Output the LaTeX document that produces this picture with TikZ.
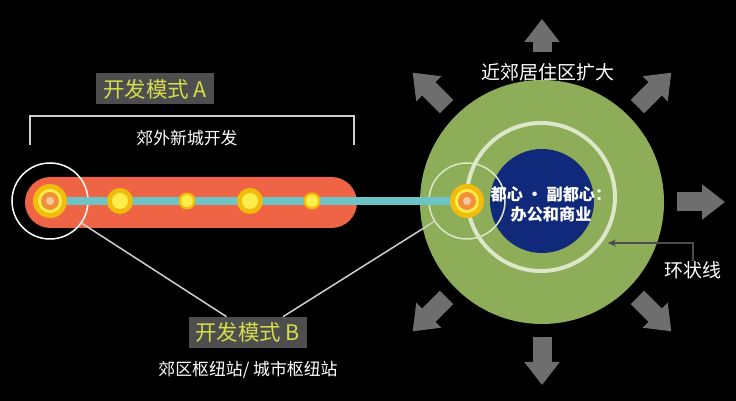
\documentclass[tikz,border=0pt]{standalone}
\usepackage{fontspec}
\newfontfamily\cjk{Noto Sans CJK SC}
\usetikzlibrary{arrows.meta,calc}
\definecolor{Pill}{HTML}{EF6444}
\definecolor{Rail}{HTML}{6CC4C6}
\definecolor{Gold}{HTML}{F2BC0C}
\definecolor{Lemon}{HTML}{FCEE4A}
\definecolor{Ember}{HTML}{F2903A}
\definecolor{Peach}{HTML}{F8C6A0}
\definecolor{Olive}{HTML}{8EAD58}
\definecolor{Navy}{HTML}{10297A}
\definecolor{RingW}{HTML}{DCE6C8}
\definecolor{Slate}{HTML}{6E6E6E}
\definecolor{BoxG}{HTML}{4E4E4E}
\definecolor{Chart}{HTML}{D4DE4C}
\definecolor{LGray}{HTML}{CFCFCF}
\newcommand\hubdot[1]{%
  \fill[Gold] (#1) circle (17); \fill[Lemon] (#1) circle (12);
  \fill[Ember] (#1) circle (9); \fill[Peach] (#1) circle (4);}

\begin{document}
\begin{tikzpicture}[
  x=0.2mm, y=-0.2mm,
  mode/.style={fill=BoxG, text=Chart, minimum width=23.6mm, minimum height=6.2mm,
    inner sep=0pt, font=\cjk\fontsize{12.2}{14}\selectfont},
  note/.style={text=white, inner sep=0pt, font=\cjk\fontsize{9.6}{11}\selectfont},
  big/.style={text=white, inner sep=0pt, font=\cjk\fontsize{10.8}{13}\selectfont},
  halo/.style={circle, draw=#1, line width=0.3mm, minimum size=15.2mm, inner sep=0pt},
  wire/.style={draw=LGray, line width=0.3mm},
  burst/.style={draw=Slate, line width=3.8mm, -{Triangle[length=4.6mm, width=6.8mm]}},
  ptr/.style={draw=black!70, line width=0.3mm, -{Stealth[length=1.6mm, width=1.4mm]}}
]
  \useasboundingbox (0,0) rectangle (736,401);
  \fill[black] (0,0) rectangle (736,401);

  \fill[Pill, rounded corners=5.1mm] (25,177) rectangle (357,228);
  \fill[Olive] (542,202) circle (122);
  \draw[RingW, line width=0.8mm] (541,197) circle (74);
  \fill[Navy] (542,201) circle (52);

  \node[halo=white] (hubA) at (50,201) {};
  \node[halo=RingW] (hubB) at (467,201) {};
  \draw[Rail, line width=1.6mm] (hubA.center) -- (hubB.center);
  \foreach \x in {120,250} {\fill[Gold] (\x,201) circle (13); \fill[Lemon] (\x,201) circle (8);}
  \foreach \x in {187,312} {\fill[Gold] (\x,201) circle (8.5); \fill[Lemon] (\x,201) circle (6);}
  \hubdot{hubA.center}
  \hubdot{hubB.center}

  \draw[LGray, line width=0.4mm] (30,145) |- (354,116) -- (354,145);
  \node[mode] (modeA) at (155,89) {开发模式 A};
  \node[note] (newtown) at (187,138) {郊外新城开发};
  \node[mode] (modeB) at (247.5,332.5) {开发模式 B};
  \node[note] (hubs) at (248,370) {郊区枢纽站/ 城市枢纽站};
  \draw[wire] (hubA.-35) -- (modeB.143);
  \draw[wire] (hubB.212) -- (modeB.24);

  \node[text=white, inner sep=0pt, align=center, font=\cjk\bfseries\fontsize{9.2}{11.4}\selectfont]
    (core) at (551,204) {都心 · 副都心：\\办公和商业};

  \coordinate (ctr) at (542,202);
  \foreach \a/\r in {-90/150,-45/135,0/135,45/135,90/135,135/135,-135/135}
    \draw[burst] ($(ctr)+(\a:\r)$) -- ($(ctr)+(\a:183)$);
  \node[big] (suburb) at (548,72) {近郊居住区扩大};

  \coordinate (ringtip) at (608,243);
  \node[big] (ringlbl) at (693,270) {环状线};
  \draw[ptr] (ringlbl.north) |- (ringtip);
\end{tikzpicture}
\end{document}
